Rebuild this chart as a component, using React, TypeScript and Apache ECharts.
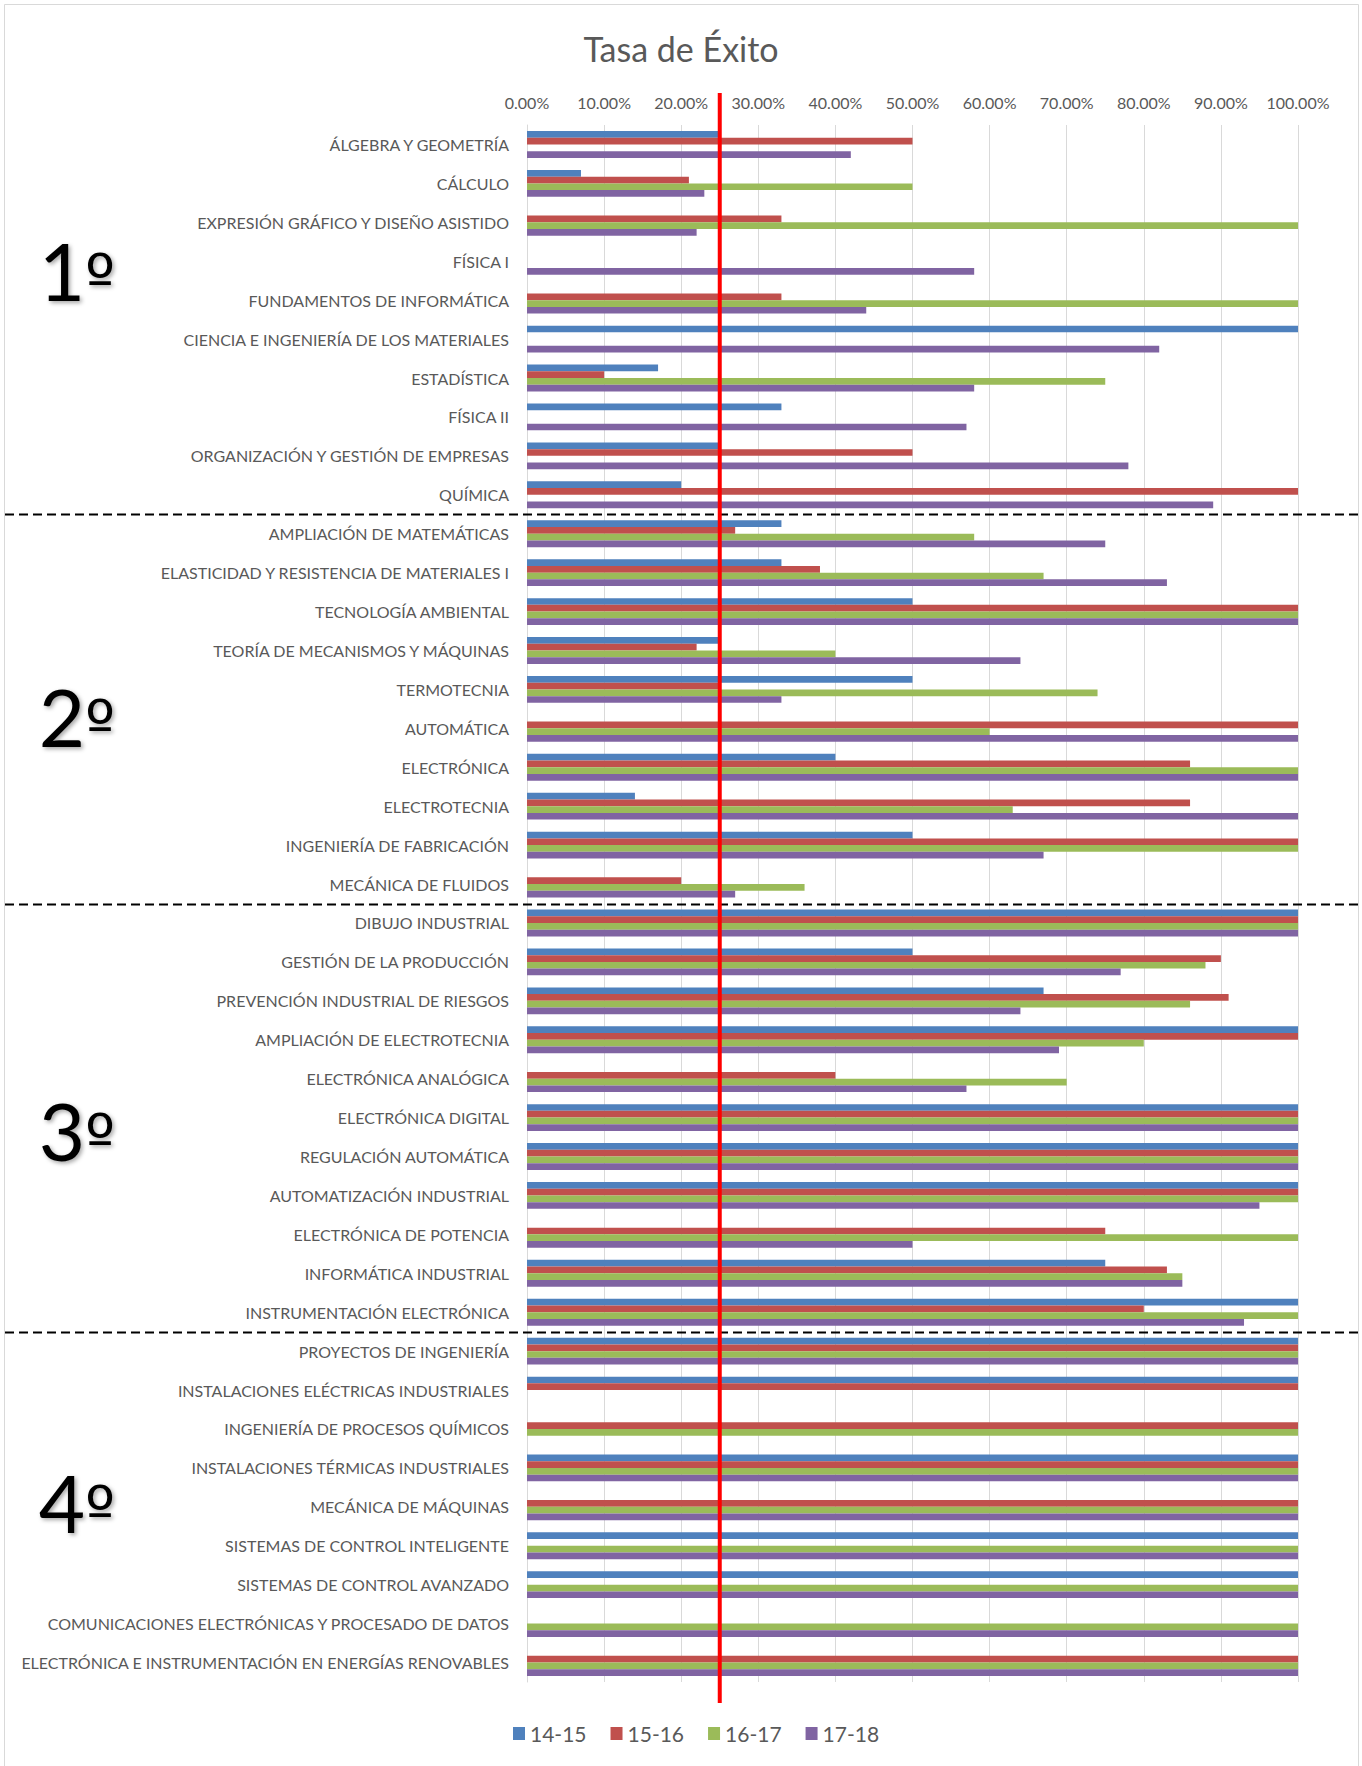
import React, { useEffect, useRef } from "react";
import * as echarts from "echarts";

const categories = [
  "ÁLGEBRA Y GEOMETRÍA",
  "CÁLCULO",
  "EXPRESIÓN GRÁFICO Y DISEÑO ASISTIDO",
  "FÍSICA I",
  "FUNDAMENTOS DE INFORMÁTICA",
  "CIENCIA E INGENIERÍA DE LOS MATERIALES",
  "ESTADÍSTICA",
  "FÍSICA II",
  "ORGANIZACIÓN Y GESTIÓN DE EMPRESAS",
  "QUÍMICA",
  "AMPLIACIÓN DE MATEMÁTICAS",
  "ELASTICIDAD Y RESISTENCIA DE MATERIALES I",
  "TECNOLOGÍA AMBIENTAL",
  "TEORÍA DE MECANISMOS Y MÁQUINAS",
  "TERMOTECNIA",
  "AUTOMÁTICA",
  "ELECTRÓNICA",
  "ELECTROTECNIA",
  "INGENIERÍA DE FABRICACIÓN",
  "MECÁNICA DE FLUIDOS",
  "DIBUJO INDUSTRIAL",
  "GESTIÓN DE LA PRODUCCIÓN",
  "PREVENCIÓN INDUSTRIAL DE RIESGOS",
  "AMPLIACIÓN DE ELECTROTECNIA",
  "ELECTRÓNICA ANALÓGICA",
  "ELECTRÓNICA DIGITAL",
  "REGULACIÓN AUTOMÁTICA",
  "AUTOMATIZACIÓN INDUSTRIAL",
  "ELECTRÓNICA DE POTENCIA",
  "INFORMÁTICA INDUSTRIAL",
  "INSTRUMENTACIÓN ELECTRÓNICA",
  "PROYECTOS DE INGENIERÍA",
  "INSTALACIONES ELÉCTRICAS INDUSTRIALES",
  "INGENIERÍA DE PROCESOS QUÍMICOS",
  "INSTALACIONES TÉRMICAS INDUSTRIALES",
  "MECÁNICA DE MÁQUINAS",
  "SISTEMAS DE CONTROL INTELIGENTE",
  "SISTEMAS DE CONTROL AVANZADO",
  "COMUNICACIONES ELECTRÓNICAS Y PROCESADO DE DATOS",
  "ELECTRÓNICA E INSTRUMENTACIÓN EN ENERGÍAS RENOVABLES",
];

const seriesNames = ["14-15", "15-16", "16-17", "17-18"];

const s1415 = [
  0.25, 0.07, null, null, null, 1, 0.17, 0.33, 0.25, 0.2,
  0.33, 0.33, 0.5, 0.25, 0.5, null, 0.4, 0.14, 0.5, null,
  1, 0.5, 0.67, 1, null, 1, 1, 1, null, 0.75, 1,
  1, 1, null, 1, null, 1, 1, null, null,
];
const s1516 = [
  0.5, 0.21, 0.33, null, 0.33, null, 0.1, null, 0.5, 1,
  0.27, 0.38, 1, 0.22, 0.25, 1, 0.86, 0.86, 1, 0.2,
  1, 0.9, 0.91, 1, 0.4, 1, 1, 1, 0.75, 0.83, 0.8,
  1, 1, 1, 1, 1, null, null, null, 1,
];
const s1617 = [
  null, 0.5, 1, null, 1, null, 0.75, null, null, null,
  0.58, 0.67, 1, 0.4, 0.74, 0.6, 1, 0.63, 1, 0.36,
  1, 0.88, 0.86, 0.8, 0.7, 1, 1, 1, 1, 0.85, 1,
  1, null, 1, 1, 1, 1, 1, 1, 1,
];
const s1718 = [
  0.42, 0.23, 0.22, 0.58, 0.44, 0.82, 0.58, 0.57, 0.78, 0.89,
  0.75, 0.83, 1, 0.64, 0.33, 1, 1, 1, 0.67, 0.27,
  1, 0.77, 0.64, 0.69, 0.57, 1, 1, 0.95, 0.5, 0.85, 0.93,
  1, null, null, 1, 1, 1, 1, 1, 1,
];

const xTicks = [0, 0.1, 0.2, 0.3, 0.4, 0.5, 0.6, 0.7, 0.8, 0.9, 1];
const threshold = 0.25;
const groupNumbers = ["1", "2", "3", "4"];
const groupLastIndex = [9, 19, 30];

const COLORS = ["#4F81BD", "#C0504D", "#9BBB59", "#8064A2"];
const TEXT = "#595959";
const GRID = "#D9D9D9";
const FONT = "Lato, 'Open Sans', sans-serif";

export default function App() {
  const ref = useRef<HTMLDivElement>(null);

  useEffect(() => {
    document.body.style.margin = "0";
    const chart = echarts.init(ref.current!, undefined, { renderer: "svg" });
    const data = [s1415, s1516, s1617, s1718];
    chart.setOption({
      animation: false,
      backgroundColor: "#ffffff",
      textStyle: { fontFamily: FONT },
      title: {
        text: "Tasa de Éxito",
        left: "center",
        top: 26,
        textStyle: { color: TEXT, fontSize: 34, fontWeight: "normal", fontFamily: FONT },
      },
      legend: {
        data: seriesNames,
        bottom: 17,
        left: 508,
        itemWidth: 12,
        itemHeight: 13,
        itemGap: 24,
        icon: "rect",
        textStyle: { color: TEXT, fontSize: 21, fontFamily: FONT },
      },
      grid: { left: 527, right: 64, top: 125, bottom: 84 },
      xAxis: {
        type: "value",
        position: "top",
        min: xTicks[0],
        max: xTicks[xTicks.length - 1],
        interval: xTicks[1] - xTicks[0],
        axisLine: { show: false },
        axisTick: { show: false },
        splitLine: { show: true, lineStyle: { color: GRID, width: 1 } },
        axisLabel: {
          color: TEXT,
          fontSize: 16,
          margin: 15,
          fontFamily: FONT,
          formatter: (v: number) => (v * 100).toFixed(2) + "%",
        },
      },
      yAxis: {
        type: "category",
        inverse: true,
        data: categories,
        axisLine: { show: true, lineStyle: { color: GRID } },
        axisTick: { show: false },
        axisLabel: { color: TEXT, fontSize: 16, margin: 18, fontFamily: FONT },
      },
      series: seriesNames.map((name, i) => ({
        name,
        type: "bar",
        data: data[i],
        barGap: "0%",
        barCategoryGap: "31%",
        itemStyle: { color: COLORS[i] },
      })),
    });

    const xLine = chart.convertToPixel({ xAxisIndex: 0 }, threshold) as number;
    const yOf = (i: number) => chart.convertToPixel({ yAxisIndex: 0 }, i) as number;
    const groupYs = [270, 716, 1130, 1502];
    const graphics: any[] = [
      {
        type: "rect",
        shape: { x: 4.5, y: 4.5, width: 1354, height: 1790 },
        style: { fill: "none", stroke: GRID, lineWidth: 1 },
        z: 1,
      },
    ];
    groupLastIndex.forEach((idx) => {
      const y = Math.round((yOf(idx) + yOf(idx + 1)) / 2) + 0.5;
      graphics.push({
        type: "line",
        shape: { x1: 5, y1: y, x2: 1360, y2: y },
        style: { stroke: "#000000", lineWidth: 2, lineDash: [9, 5] },
        z: 50,
      });
    });
    graphics.push({
      type: "line",
      shape: { x1: xLine, y1: 93, x2: xLine, y2: 1703 },
      style: { stroke: "#FF0000", lineWidth: 4 },
      z: 60,
    });
    groupNumbers.forEach((t, i) => {
      graphics.push({
        type: "text",
        x: 77,
        y: groupYs[i],
        style: {
          text: `{n|${t}}{o|º}`,
          fill: "#000000",
          align: "center",
          verticalAlign: "middle",
          rich: {
            n: { fontFamily: FONT, fontSize: 80, fill: "#000000", verticalAlign: "bottom" },
            o: { fontFamily: "'DejaVu Sans', sans-serif", fontSize: 64, fill: "#000000", verticalAlign: "bottom" },
          },
          textShadowColor: "rgba(0,0,0,0.35)",
          textShadowBlur: 4,
          textShadowOffsetX: 2,
          textShadowOffsetY: 2,
        },
        z: 70,
      });
    });
    chart.setOption({ graphic: graphics });

    return () => chart.dispose();
  }, []);

  return <div ref={ref} style={{ width: 1362, height: 1766 }} />;
}
